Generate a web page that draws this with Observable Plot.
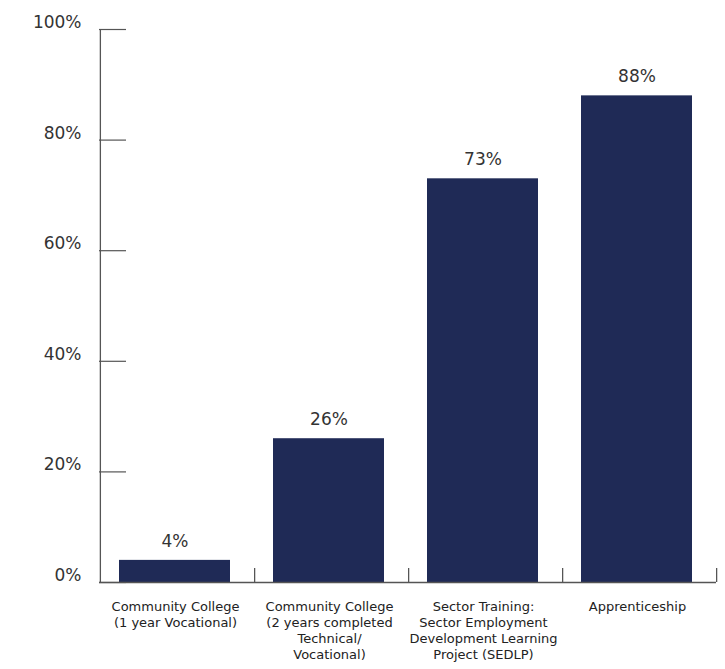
<!DOCTYPE html>
<html>
<head>
<meta charset="utf-8">
<script src="https://cdn.jsdelivr.net/npm/d3@7"></script>
<script src="https://cdn.jsdelivr.net/npm/@observablehq/plot@0.6"></script>
<style>
  html, body { margin: 0; padding: 0; background: #fff; }
  #chart svg { display: block; }
</style>
</head>
<body>
<div id="chart"></div>
<script>
const categories = [
  "Community College\n(1 year Vocational)",
  "Community College\n(2 years completed\nTechnical/\nVocational)",
  "Sector Training:\nSector Employment\nDevelopment Learning\nProject (SEDLP)",
  "Apprenticeship"
];
const values = [4, 26, 73, 88];
const yTicks = [0, 20, 40, 60, 80, 100];

const data = categories.map((c, i) => ({cat: c, value: values[i]}));

const W = 725, H = 669;
const mL = 99, mR = 9, mT = 29, mB = 87;
const bw = (W - mL - mR) / categories.length;
const fh = H - mT - mB;
const axisColor = "#555";
const textColor = "#333";
const font = "'DejaVu Sans', sans-serif";

const chart = Plot.plot({
  width: W,
  height: H,
  marginLeft: mL,
  marginRight: mR,
  marginTop: mT,
  marginBottom: mB,
  style: {fontFamily: font, background: "#fff"},
  x: {domain: categories, padding: 0, axis: null},
  y: {domain: [0, 100], axis: null},
  marks: [
    Plot.barY(data, {x: "cat", y: "value", fill: "#1f2a56", insetLeft: 19, insetRight: 24}),
    Plot.text(data, {x: "cat", y: "value", text: d => d.value + "%", dx: -2.5, dy: -19, fontSize: 17, fill: textColor}),
    Plot.ruleY([0], {stroke: axisColor, strokeWidth: 1.3}),
    Plot.ruleX([categories[0]], {dx: -bw / 2, stroke: axisColor, strokeWidth: 1.3}),
    Plot.ruleX(categories, {dx: bw / 2, insetTop: fh - 14, stroke: axisColor, strokeWidth: 1.3}),
    Plot.tickY(yTicks, {y: d => d, insetRight: (W - mL - mR) - 27, stroke: axisColor, strokeWidth: 1.2}),
    Plot.text(yTicks, {y: d => d, text: d => d + "%", frameAnchor: "left", dx: -18, dy: -7, textAnchor: "end", fontSize: 17, fill: textColor}),
    Plot.text(data, {x: "cat", text: "cat", frameAnchor: "bottom", lineAnchor: "top", dx: -2, dy: 17, fontSize: 13, lineHeight: 1.23, fill: "#222"})
  ]
});
document.getElementById("chart").appendChild(chart);
</script>
</body>
</html>
